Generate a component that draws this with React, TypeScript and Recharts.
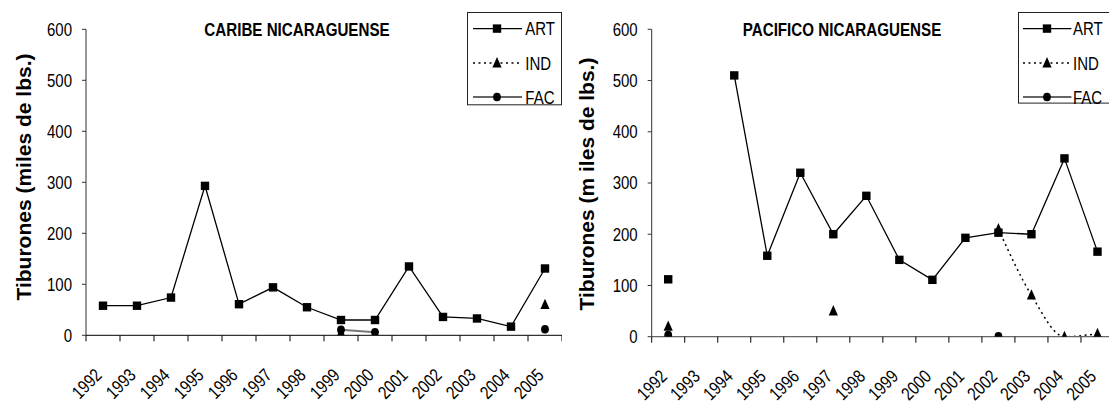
import React from 'react';
import { LineChart, Line, XAxis, YAxis, Legend } from 'recharts';

const years = [1992, 1993, 1994, 1995, 1996, 1997, 1998, 1999, 2000, 2001, 2002, 2003, 2004, 2005];
const yearEdges = [1991.5, 1992.5, 1993.5, 1994.5, 1995.5, 1996.5, 1997.5, 1998.5, 1999.5, 2000.5, 2001.5, 2002.5, 2003.5, 2004.5, 2005.5];
const yTicks = [0, 100, 200, 300, 400, 500, 600];
const seriesNames = ['ART', 'IND', 'FAC'];

const caribeArt = [58, 58, 74, 293, 61, 94, 55, 30, 30, 135, 36, 33, 17, 131];
const caribeInd = [null, null, null, null, null, null, null, 5, null, null, null, null, null, 60];
const caribeFac = [null, null, null, null, null, null, null, 11, 6, null, null, null, null, 12];

const pacificoArt = [112, null, 510, 158, 320, 200, 275, 150, 111, 193, 203, 200, 348, 166];
const pacificoInd = [20, null, null, null, null, 50, null, null, null, null, 210, 81, 0, 6];
const pacificoFac = [3, null, null, null, null, null, null, null, null, null, 1, null, null, null];

const caribeTitle = 'CARIBE NICARAGUENSE';
const pacificoTitle = 'PACIFICO NICARAGUENSE';
const caribeYLabel = 'Tiburones (miles de lbs.)';
const pacificoYLabel = 'Tiburones (m iles de lbs.)';

const FONT = "'Liberation Sans', Arial, sans-serif";
const NARROW_SCALE = 0.82;

const buildData = (art: (number | null)[], ind: (number | null)[], fac: (number | null)[]) =>
  years.map((year, i) => ({ year, ART: art[i], IND: ind[i], FAC: fac[i] }));

const caribeData = buildData(caribeArt, caribeInd, caribeFac);
const pacificoData = buildData(pacificoArt, pacificoInd, pacificoFac);

const SQ = 4.2;
const SquareDot = (props: any) => {
  const { cx, cy, index } = props;
  if (cx == null || cy == null || props.value == null) return <g key={`s${index}`} />;
  return <rect key={`s${index}`} x={cx - SQ} y={cy - SQ} width={SQ * 2} height={SQ * 2} fill="#000" />;
};
const triPoints = (cx: number, cy: number) => `${cx},${cy - 6} ${cx + 4.6},${cy + 4.4} ${cx - 4.6},${cy + 4.4}`;
const TriDot = (props: any) => {
  const { cx, cy, index } = props;
  if (cx == null || cy == null || props.value == null) return <g key={`t${index}`} />;
  return <polygon key={`t${index}`} points={triPoints(cx, cy)} fill="#000" />;
};
const CircDot = (props: any) => {
  const { cx, cy, index } = props;
  if (cx == null || cy == null || props.value == null) return <g key={`c${index}`} />;
  return <ellipse key={`c${index}`} cx={cx} cy={cy} rx={3.9} ry={4.3} fill="#000" />;
};

const NarrowText = ({ x, y, anchor, size, bold, rotate, children }: any) => (
  <text
    x={0}
    y={0}
    textAnchor={anchor}
    transform={`translate(${x} ${y})${rotate ? ` rotate(${rotate})` : ''} scale(${NARROW_SCALE} 1)`}
    fontSize={size}
    fontWeight={bold ? 'bold' : 'normal'}
    fontFamily={FONT}
    fill="#000"
  >
    {children}
  </text>
);

const XTickLabel = (props: any) => {
  const { x, y, payload } = props;
  return (
    <NarrowText x={x} y={y + 40} anchor="end" size={18.3} rotate={-45}>
      {payload.value}
    </NarrowText>
  );
};

const YTickLabel = (props: any) => {
  const { x, y, payload } = props;
  return (
    <NarrowText x={x} y={y + 6.4} anchor="end" size={18.3}>
      {payload.value}
    </NarrowText>
  );
};

const EmptyTick = () => <g />;

const LegendBox = ({ w, h, lineX1, lineX2, markX, textX }: any) => () => {
  const rows = [16.6, 51, 85];
  return (
    <svg width={w} height={h} style={{ display: 'block', overflow: 'visible' }}>
      <rect x={0.5} y={0.5} width={w - 1} height={h - 1} fill="#fff" stroke="#222" strokeWidth={1} />
      <line x1={lineX1} x2={lineX2} y1={rows[0]} y2={rows[0]} stroke="#000" strokeWidth={1.3} />
      <rect x={markX - SQ} y={rows[0] - SQ} width={SQ * 2} height={SQ * 2} fill="#000" />
      <line x1={lineX1} x2={lineX2} y1={rows[1]} y2={rows[1]} stroke="#000" strokeWidth={1.5} strokeDasharray="2 3.5" />
      <polygon points={triPoints(markX, rows[1])} fill="#000" />
      <line x1={lineX1} x2={lineX2} y1={rows[2]} y2={rows[2]} stroke="#666" strokeWidth={2} />
      <ellipse cx={markX} cy={rows[2]} rx={3.9} ry={4.3} fill="#000" />
      {seriesNames.map((n, i) => (
        <NarrowText key={n} x={textX} y={rows[i] + 6.5} anchor="start" size={18.3}>{n}</NarrowText>
      ))}
    </svg>
  );
};

function Panel(props: any) {
  const { data, width, margin, title, titleX, yLabel, yLabelX, yLabelY, legendLeft, legendBox, axisColor, xAxisWidth } = props;
  return (
    <LineChart width={width} height={403} data={data} margin={margin}>
      <XAxis
        type="number"
        dataKey="year"
        domain={[1991.5, 2005.5]}
        ticks={yearEdges}
        interval={0}
        tick={EmptyTick}
        tickSize={6}
        height={1}
        axisLine={{ stroke: axisColor, strokeWidth: xAxisWidth }}
        tickLine={{ stroke: '#000', strokeWidth: 1 }}
        allowDataOverflow
        label={{
          content: () => (
            <NarrowText x={titleX} y={35.5} anchor="middle" size={18.5} bold>
              {title}
            </NarrowText>
          ),
        }}
      />
      <XAxis
        xAxisId="lab"
        type="number"
        dataKey="year"
        domain={[1991.5, 2005.5]}
        ticks={years}
        interval={0}
        tick={XTickLabel}
        tickSize={0}
        tickMargin={0}
        axisLine={false}
        tickLine={false}
        height={60}
        allowDataOverflow
      />
      <YAxis
        type="number"
        domain={[0, 600]}
        ticks={yTicks}
        interval={0}
        width={60}
        tickSize={4}
        tickMargin={10}
        axisLine={{ stroke: '#333', strokeWidth: 1 }}
        tickLine={{ stroke: '#333', strokeWidth: 1 }}
        tick={YTickLabel}
        allowDataOverflow
        label={{
          content: () => (
            <text
              x={yLabelX}
              y={yLabelY}
              textAnchor="middle"
              dominantBaseline="central"
              transform={`rotate(-90 ${yLabelX} ${yLabelY})`}
              fontSize={21}
              fontWeight="bold"
              fontFamily={FONT}
              fill="#000"
            >
              {yLabel}
            </text>
          ),
        }}
      />
      <Legend
        layout="vertical"
        align="center"
        verticalAlign="middle"
        content={LegendBox(legendBox)}
        wrapperStyle={{ left: legendLeft, top: 11.7, width: legendBox.w, height: legendBox.h, margin: 0 }}
      />
      <Line dataKey="FAC" stroke="#777" strokeWidth={2} dot={CircDot} isAnimationActive={false} activeDot={false} type="linear" />
      <Line dataKey="IND" stroke="#000" strokeWidth={1.5} strokeDasharray="2 3.5" dot={TriDot} isAnimationActive={false} activeDot={false} type="monotone" />
      <Line dataKey="ART" stroke="#000" strokeWidth={1.3} dot={SquareDot} isAnimationActive={false} activeDot={false} type="linear" />
    </LineChart>
  );
}

export default function App() {
  return (
    <div style={{ position: 'absolute', left: 0, top: 0, width: 1109, height: 403, overflow: 'hidden', background: '#fff' }}>
      <div style={{ position: 'absolute', left: 0, top: 0 }}>
        <Panel
          data={caribeData}
          width={562}
          margin={{ top: 29.3, right: 0, bottom: 6.7, left: 26 }}
          title={caribeTitle}
          titleX={297}
          yLabel={caribeYLabel}
          yLabelX={23}
          yLabelY={177}
          legendLeft={466.7}
          legendBox={{ w: 95, h: 93.3, lineX1: 6, lineX2: 55, markX: 30, textX: 58.3 }}
          axisColor="#000"
          xAxisWidth={1}
        />
      </div>
      <div style={{ position: 'absolute', left: 562, top: 0 }}>
        <Panel
          data={pacificoData}
          width={552}
          margin={{ top: 29.3, right: 0, bottom: 5.3, left: 29.7 }}
          title={pacificoTitle}
          titleX={280}
          yLabel={pacificoYLabel}
          yLabelX={24}
          yLabelY={184}
          legendLeft={456.3}
          legendBox={{ w: 100, h: 91.6, lineX1: 5, lineX2: 53.4, markX: 29, textX: 55 }}
          axisColor="#666"
          xAxisWidth={1.3}
        />
      </div>
    </div>
  );
}
